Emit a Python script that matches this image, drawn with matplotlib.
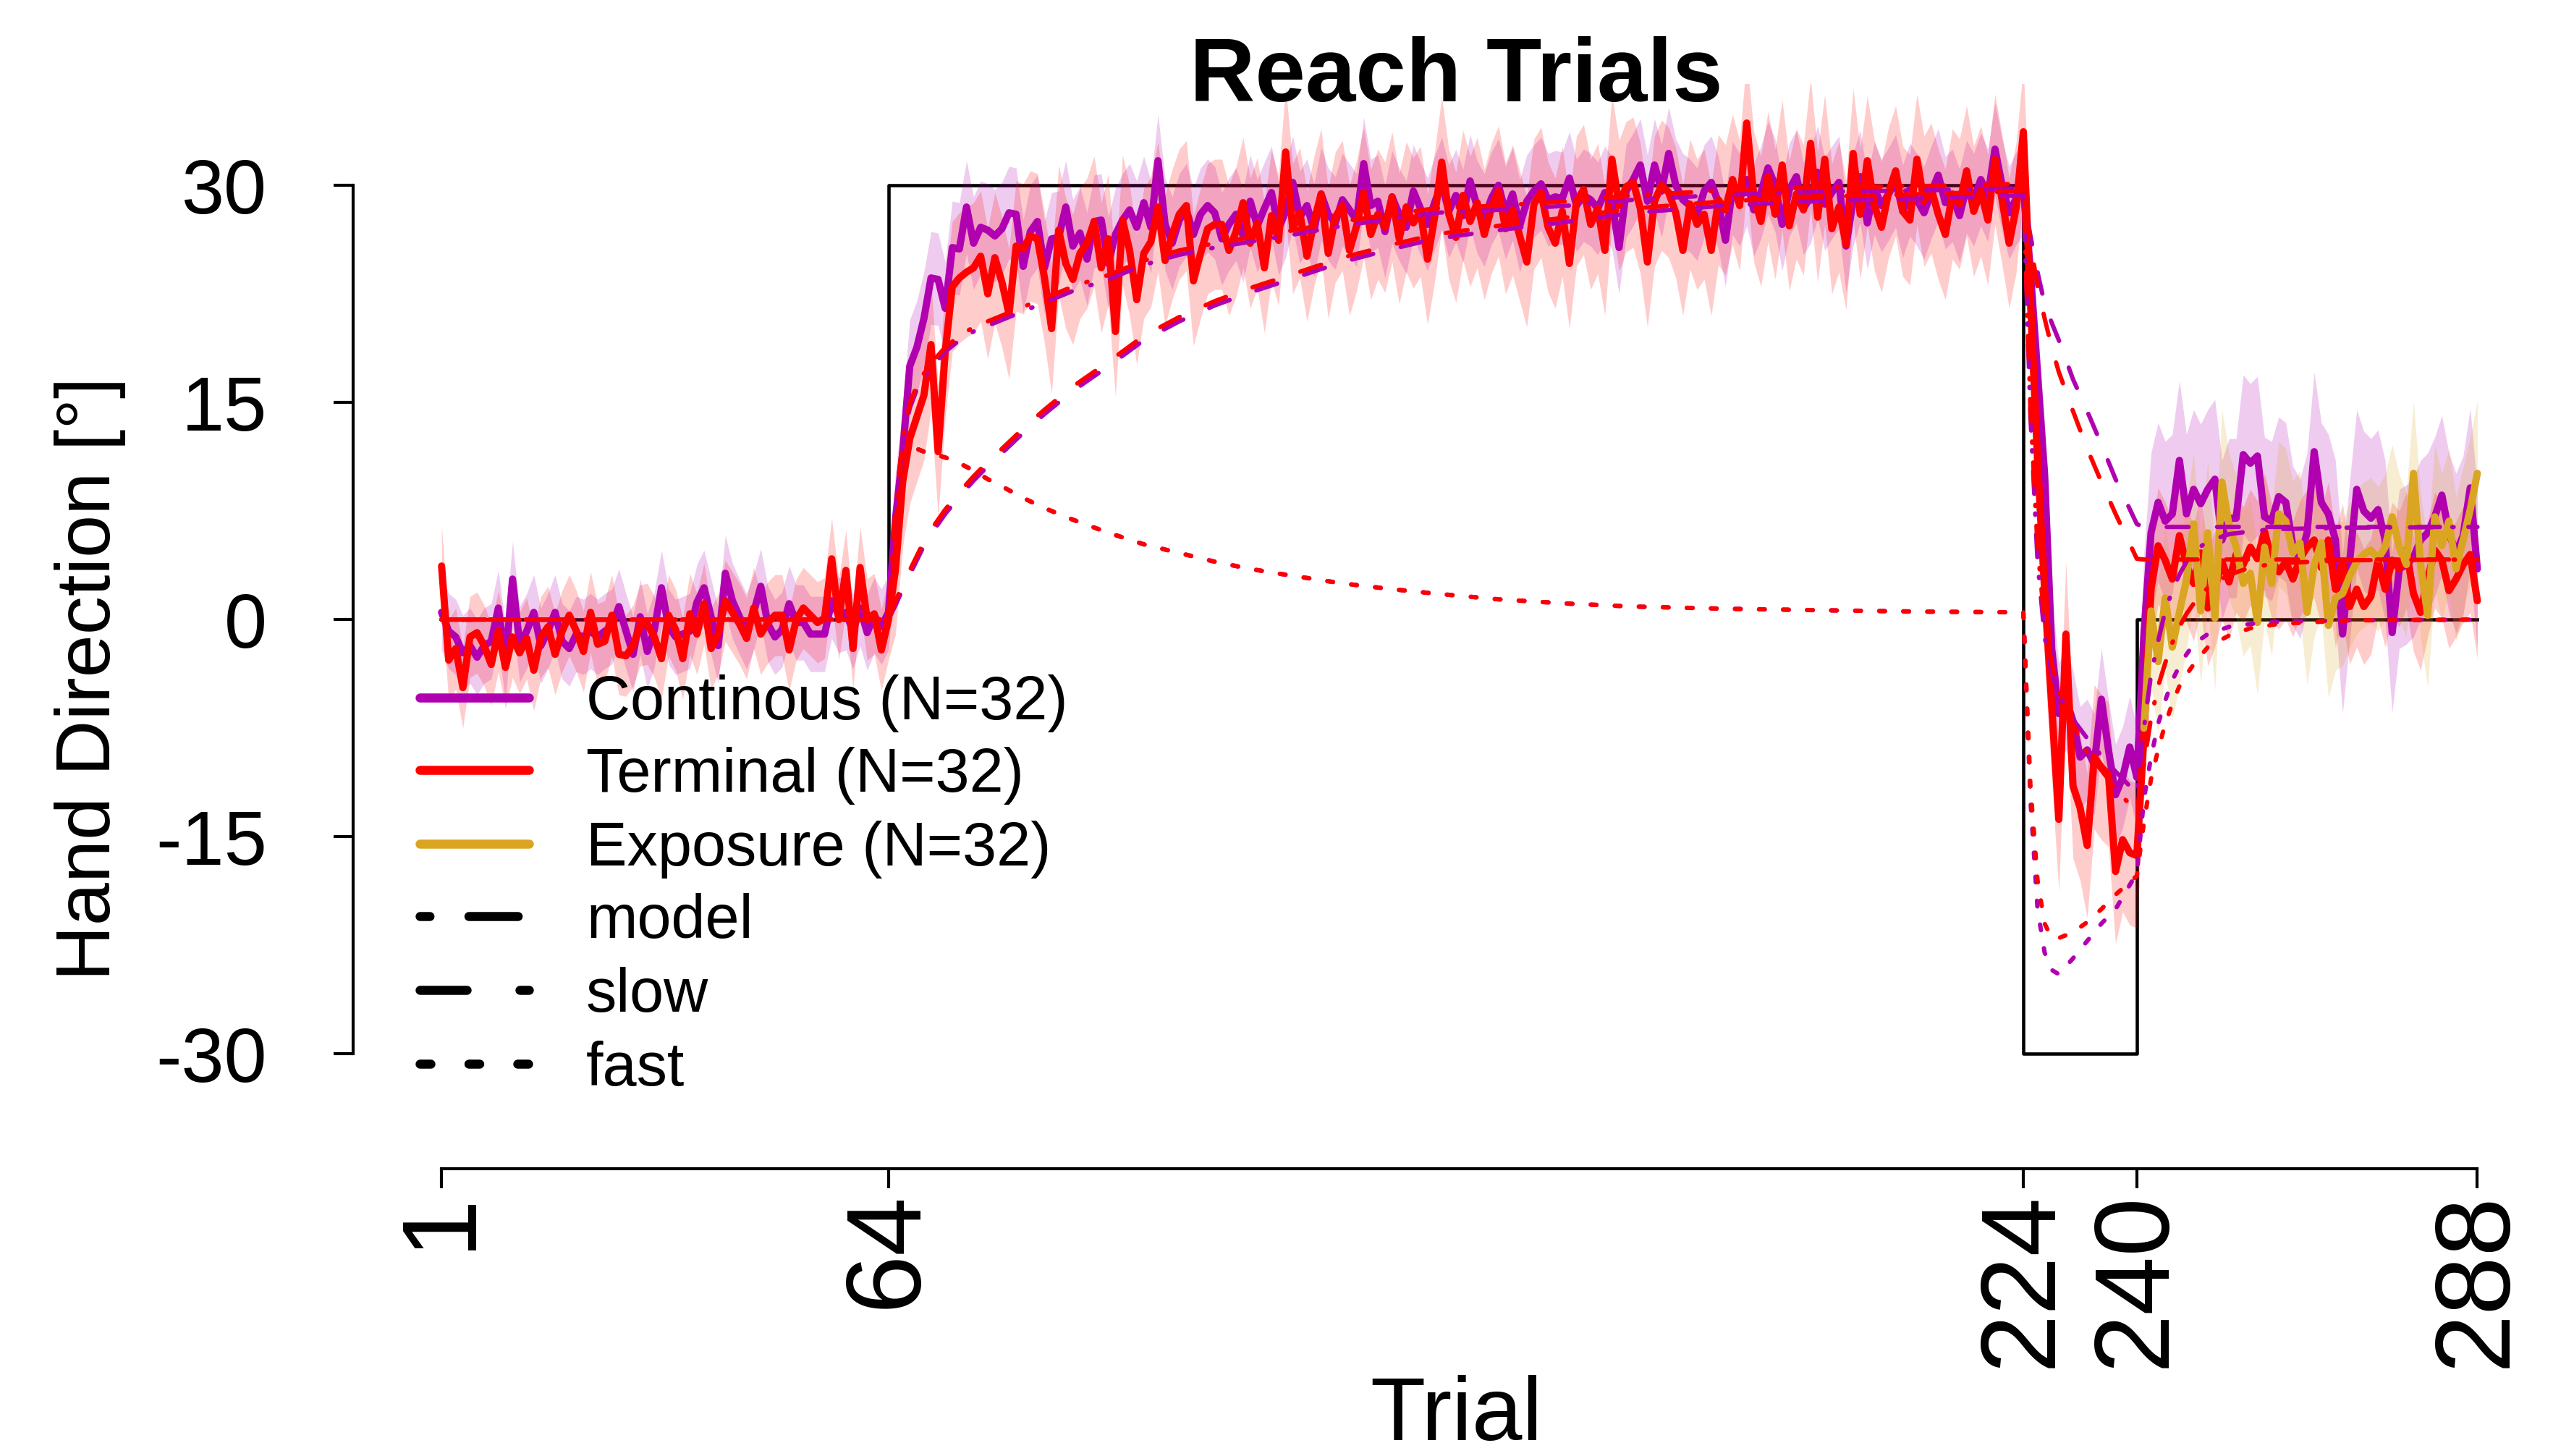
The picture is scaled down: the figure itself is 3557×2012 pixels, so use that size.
import matplotlib
matplotlib.use('Agg')
import matplotlib.pyplot as plt
from matplotlib.lines import Line2D
import numpy as np

plt.rcParams['font.family'] = ['Liberation Sans', 'DejaVu Sans']

# ---- data ----
# Continuous group, per trial, split by phase
cont_base = [0.5, -0.8, -1.2, -2.3, -1.8, -2.6, -1.8, -1.5, 0.8, -3.0,
             2.8, -1.7, -0.8, 0.5, -1.8, -0.8, 0.5, -1.5, -2.0, -1.0,
             -1.2, -0.8, -1.2, -0.8, -0.5, 0.9, -0.8, -2.4, 0.2, -2.2,
             -0.7, 2.2, -0.5, -1.2, -1.0, -0.8, 1.2, 2.2, 0.2, -1.8,
             3.2, 1.3, 0.2, -0.8, 0.5, 2.3, -0.3, -1.2, -0.7, 1.1,
             -0.2, -0.2, -1.0, -1.0, -1.0, 1.3, 0.3, 0.5, -0.8, 0.8,
             -0.9, 0.3, -0.5, 0.5]
cont_train = [7.0, 11.5, 17.5, 18.8, 20.8, 23.6, 23.5, 21.5, 25.7, 25.6,
              28.5, 26.0, 27.1, 26.9, 26.5, 27.0, 28.1, 28.0, 24.4, 26.8,
              27.5, 24.3, 26.3, 26.4, 28.5, 25.8, 26.7, 24.9, 27.5, 27.6,
              24.6, 26.6, 27.6, 28.3, 27.1, 28.8, 27.1, 31.7, 27.3, 26.0,
              27.6, 28.3, 26.6, 28.0, 28.6, 28.1, 26.3, 27.3, 28.0, 26.5,
              28.9, 27.2, 28.4, 29.5, 27.0, 28.2, 30.2, 27.8, 28.6, 26.9,
              29.4, 28.0, 27.4, 29.0, 28.3, 27.6, 31.5, 28.6, 28.9, 26.8,
              29.2, 28.0, 27.1, 29.6, 28.4, 27.3, 28.8, 30.1, 28.2, 29.3,
              27.9, 30.3, 28.5, 27.6, 29.1, 30.0, 28.1, 29.4, 27.2, 28.9,
              29.6, 30.1, 29.0, 29.2, 29.1, 30.5, 28.6, 29.3, 29.0, 28.4,
              29.5, 28.8, 25.7, 29.6, 30.4, 31.4, 28.9, 31.4, 29.6, 32.2,
              30.0, 29.0, 28.6, 28.0, 29.6, 30.2, 28.8, 26.2, 29.8, 29.0,
              30.4, 28.3, 29.5, 31.2, 30.0, 27.3, 29.7, 30.6, 28.4, 29.2,
              30.9, 28.7, 29.5, 30.2, 25.8, 29.0, 30.6, 27.4, 29.8, 28.6,
              29.4, 30.3, 28.2, 29.7, 29.0, 28.1, 29.5, 30.7, 28.8, 29.3,
              27.9, 29.9, 29.0, 30.4, 29.3, 32.5, 30.0, 28.1, 29.1, 29.75]
cont_counter = [24.0, 17.0, 10.0, -2.0, -6.5, -5.5, -7.0, -9.5, -9.0, -10.0,
                -5.5, -9.0, -12.1, -10.9, -8.8, -10.9]
cont_clamp = [-1.0, 6.0, 8.1, 6.8, 7.3, 11.0, 7.3, 9.0, 8.0, 9.0,
              9.7, 5.5, 7.0, 7.0, 11.4, 10.8, 11.3, 7.1, 6.8, 8.5,
              8.1, 5.1, 4.2, 6.0, 11.6, 8.1, 7.3, 5.5, -1.0, 4.0,
              9.0, 7.5, 7.0, 7.6, 5.5, -0.9, 3.5, 3.8, 4.3, 5.5,
              6.0, 7.1, 8.6, 6.0, 4.6, 5.8, 9.1, 3.5]

# Terminal group
term_base = [3.7, -2.8, -2.0, -4.7, -1.2, -0.9, -1.8, -3.1, -0.8, -3.3,
             -1.2, -2.3, -1.3, -3.5, -1.2, -0.5, -2.4, -0.8, 0.3, -0.8,
             -2.2, 0.5, -1.7, -1.5, 0.3, -2.4, -2.5, -1.8, -0.4, -0.3,
             -1.2, -2.7, 0.3, -0.7, -2.7, 0.4, -1.0, 1.1, -2.0, -1.0,
             1.3, 0.5, -0.3, -1.3, 0.8, -1.0, -0.2, 0.3, 0.3, -2.1,
             0.0, 0.8, 0.3, -0.2, 0.1, 4.2, 0.0, 3.4, -2.0, 3.6,
             0.0, 0.4, -2.1, 0.0]
term_train = [3.5, 9.5, 12.5, 14.0, 15.5, 19.0, 11.6, 18.5, 23.0, 23.6,
              24.0, 24.3, 25.1, 22.5, 25.0, 23.3, 21.1, 25.8, 25.6, 26.5,
              26.3, 23.6, 20.1, 26.9, 24.6, 23.5, 25.3, 26.0, 27.5, 24.3,
              26.3, 19.9, 27.6, 25.5, 22.1, 25.3, 26.1, 28.5, 24.8, 26.6,
              28.0, 28.6, 23.4, 25.3, 27.0, 27.3, 27.3, 25.5, 26.8, 28.8,
              26.0, 27.4, 24.3, 27.9, 26.2, 32.3, 27.0, 28.1, 25.1, 27.5,
              29.4, 25.3, 27.8, 28.6, 25.5, 27.2, 29.5, 26.6, 28.0, 27.1,
              29.2, 26.3, 28.5, 27.4, 28.2, 24.9, 27.8, 31.6, 28.0, 26.4,
              29.3, 27.5, 28.8, 26.6, 28.4, 29.6, 27.0, 28.3, 26.5, 24.7,
              28.7, 29.5, 27.1, 26.0, 28.2, 24.6, 28.9, 29.7, 27.3, 28.4,
              25.5, 31.8, 28.6, 29.9, 30.2, 28.4, 24.7, 28.9, 30.0, 29.5,
              28.1, 25.5, 28.7, 27.3, 28.0, 25.5, 29.0, 28.3, 30.4, 28.6,
              34.3, 29.2, 27.5, 30.6, 28.0, 31.4, 27.2, 29.4, 28.3, 32.9,
              27.8, 31.8, 27.0, 28.5, 25.9, 32.2, 28.0, 31.7, 28.6, 27.1,
              29.5, 31.0, 28.2, 27.6, 31.8, 28.9, 29.8, 28.0, 26.6, 29.4,
              28.7, 31.0, 28.2, 29.6, 27.6, 31.8, 29.0, 26.0, 28.5, 33.7]
term_counter = [22.0, 11.0, 2.0, -6.0, -13.8, -1.0, -11.5, -13.0, -15.6, -9.5,
                -10.2, -10.7, -17.4, -15.2, -16.1, -16.3]
term_clamp = [-8.0, 2.1, 5.1, 4.1, 2.8, 5.8, 3.8, 2.5, 4.6, 0.8,
              2.1, 4.0, 2.6, 4.5, 3.8, 5.0, 4.2, 6.1, 4.1, 3.3,
              4.0, 2.8, 4.2, 5.0, 5.5, 3.6, 5.5, 2.1, 4.0, 0.9,
              2.1, 0.9, 1.6, 4.1, 2.1, 4.1, 3.5, 4.8, 1.8, 0.5,
              2.8, 4.8, 4.1, 2.0, 2.8, 3.8, 4.5, 1.3]

# Exposure group (only clamp trials 241-288)
expo_clamp = [-7.5, 0.6, -2.9, 1.5, -1.9, 0.5, 2.8, 6.6, 0.6, 6.0,
              0.1, 9.5, 6.5, 5.0, 2.5, 3.2, -0.2, 5.0, 2.5, 7.3,
              6.8, 4.6, 5.3, 0.5, 3.8, 5.3, -0.4, 1.5, 1.8, 3.0,
              4.0, 4.5, 4.8, 4.2, 5.0, 7.1, 5.0, 3.8, 10.1, 3.8,
              0.3, 7.1, 5.1, 6.8, 3.5, 5.5, 7.6, 10.1]

# approximate half-width of the shaded bands per phase (baseline, training, counter, clamp)
phase_len = [64, 160, 16, 48]
cont_ci = [2.6, 3.2, 3.5, 5.5]
term_ci = [2.8, 4.5, 5.0, 4.0]
expo_ci = 5.0

# rotation schedule
sched_trials = [1, 64, 64, 224, 224, 240, 240, 288]
sched_vals = [0, 0, 30, 30, -30, -30, 0, 0]

# two-rate model fits, read at these trials
model_trials = [1, 64, 65, 66, 67, 68, 69, 70, 72, 74, 76, 78, 80, 83, 86, 90, 95, 100,
                105, 110, 115, 120, 128, 135, 141, 150, 160, 169, 182, 195, 210, 224,
                225, 226, 227, 228, 229, 231, 233, 235, 237, 240,
                241, 242, 243, 244, 245, 246, 247, 248, 250, 253, 256, 260, 270, 288]
cont_model = [0, 0, 7.5, 12.1, 14.6, 15.9, 16.7, 17.4, 18.5, 19.3, 19.9, 20.3, 20.7, 21.3,
              21.9, 22.7, 23.5, 24.5, 25.2, 25.7, 26.1, 26.5, 27.2, 27.7, 28.1, 28.3, 28.6,
              29.0, 29.35, 29.55, 29.65, 29.8,
              14.0, 4.0, -1.2, -3.7, -5.2, -6.9, -8.2, -9.4, -10.5, -12.0,
              -7.5, -3.8, -1.5, 0.6, 2.0, 3.1, 4.0, 4.7, 5.4, 5.9, 6.1, 6.25, 6.35, 6.4]
cont_slow = [0, 0, 1.0, 2.1, 3.1, 4.1, 5.1, 5.9, 7.3, 8.5, 9.6, 10.6, 11.5, 12.9, 14.2,
             15.8, 17.5, 19.3, 20.6, 21.7, 22.6, 23.4, 24.7, 25.6, 26.3, 26.9, 27.5, 28.1,
             28.6, 28.9, 29.1, 29.3,
             26.5, 24.0, 21.8, 20.5, 19.3, 16.6, 14.4, 12.1, 9.7, 6.6,
             6.4, 6.4, 6.4, 6.4, 6.4, 6.4, 6.4, 6.4, 6.4, 6.4, 6.4, 6.4, 6.4, 6.4]
cont_fast = [0, 0, 6.5, 10.0, 11.5, 11.8, 11.6, 11.5, 11.2, 10.8, 10.3, 9.7, 9.2, 8.4, 7.7,
             6.9, 6.0, 5.2, 4.6, 4.0, 3.5, 3.1, 2.5, 2.1, 1.8, 1.4, 1.1, 0.9, 0.75, 0.65,
             0.55, 0.5,
             -12.5, -20.0, -23.0, -24.2, -24.5, -23.4, -22.2, -21.0, -20.0, -17.5,
             -12.4, -9.5, -7.2, -5.6, -4.2, -3.2, -2.4, -1.7, -1.0, -0.5, -0.3, -0.15, -0.05, 0.0]
term_model = [0, 0, 7.8, 12.4, 14.9, 16.2, 17.0, 17.7, 18.8, 19.6, 20.2, 20.6, 21.0, 21.6,
              22.2, 23.0, 23.8, 24.8, 25.5, 26.0, 26.4, 26.8, 27.5, 28.0, 28.4, 28.6, 28.9,
              29.3, 29.65, 29.85, 29.95, 30.1,
              14.5, 5.0, -0.2, -3.0, -4.9, -7.2, -9.2, -10.4, -11.7, -13.3,
              -10.0, -6.8, -4.6, -3.0, -1.6, -0.5, 0.4, 1.1, 2.2, 3.1, 3.6, 3.9, 4.1, 4.15]
term_slow = [0, 0, 1.3, 2.4, 3.4, 4.4, 5.4, 6.2, 7.6, 8.8, 9.9, 10.9, 11.8, 13.2, 14.5,
             16.1, 17.8, 19.6, 20.9, 22.0, 22.9, 23.7, 25.0, 25.9, 26.6, 27.2, 27.8, 28.4,
             28.9, 29.2, 29.4, 29.6,
             26.0, 23.0, 20.8, 18.8, 17.1, 14.4, 11.8, 9.5, 7.3, 4.2,
             4.15, 4.15, 4.15, 4.15, 4.15, 4.15, 4.15, 4.15, 4.15, 4.15, 4.15, 4.15, 4.15, 4.15]
term_fast = [0, 0, 6.5, 10.0, 11.5, 11.8, 11.6, 11.5, 11.2, 10.8, 10.3, 9.7, 9.2, 8.4, 7.7,
             6.9, 6.0, 5.2, 4.6, 4.0, 3.5, 3.1, 2.5, 2.1, 1.8, 1.4, 1.1, 0.9, 0.75, 0.65,
             0.55, 0.5,
             -11.5, -18.0, -21.0, -22.0, -22.0, -21.6, -20.9, -20.0, -19.0, -17.7,
             -14.0, -11.0, -9.0, -7.2, -5.8, -4.6, -3.8, -3.1, -1.9, -1.1, -0.6, -0.3, -0.05, 0.0]

xticks = [1, 64, 224, 240, 288]
yticks = [-30, -15, 0, 15, 30]

PURPLE = '#B000B0'
RED = '#FF0000'
GOLD = '#DAA520'

# ---- assemble ----
cont = np.array(cont_base + cont_train + cont_counter + cont_clamp)
term = np.array(term_base + term_train + term_counter + term_clamp)
expo = np.array(expo_clamp)
trials = np.arange(1, len(cont) + 1)
expo_trials = np.arange(241, 241 + len(expo))
cont_hw = np.repeat(cont_ci, phase_len)
term_hw = np.repeat(term_ci, phase_len)

W, H, DPI = 3557, 2012, 300
fig = plt.figure(figsize=(W / DPI, H / DPI), dpi=DPI)


def fx(px):
    return px / W


def fy(py):
    return 1 - py / H


# axes box in pixels: left 488, right 3443, top 116, bottom 1615
ax = fig.add_axes([fx(488), fy(1615), fx(3443) - fx(488), fy(116) - fy(1615)])
ax.set_xlim(-11.47, 290.0)
ax.set_ylim(-37.93, 37.0)

ax.plot(sched_trials, sched_vals, color='black', lw=1.1, zorder=1)

ax.fill_between(trials, cont - cont_hw, cont + cont_hw, color=PURPLE, alpha=0.2, lw=0, zorder=2)
ax.fill_between(trials, term - term_hw, term + term_hw, color=RED, alpha=0.2, lw=0, zorder=2)
ax.fill_between(expo_trials, expo - expo_ci, expo + expo_ci, color=GOLD, alpha=0.2, lw=0, zorder=2)

line_kw = dict(lw=2.4, solid_capstyle='round', solid_joinstyle='round', zorder=3)
ax.plot(trials, cont, color=PURPLE, **line_kw)
ax.plot(trials, term, color=RED, **line_kw)
ax.plot(expo_trials, expo, color=GOLD, **line_kw)

model_style = (0, (0.3, 4.5, 5.2, 4.5))
slow_style = (0, (5.0, 6.5))
fast_style = (0, (1.3, 4.2))
mkw = dict(lw=1.45, dash_capstyle='round', zorder=4)
for col, m, s, f in [(PURPLE, cont_model, cont_slow, cont_fast),
                     (RED, term_model, term_slow, term_fast)]:
    ax.plot(model_trials, m, color=col, ls=model_style, **mkw)
    ax.plot(model_trials, s, color=col, ls=slow_style, **mkw)
    ax.plot(model_trials, f, color=col, ls=fast_style, **mkw)

# R-style detached axes
for side in ['top', 'right']:
    ax.spines[side].set_visible(False)
ax.spines['left'].set_bounds(-30, 30)
ax.spines['bottom'].set_bounds(1, 288)
for side in ['left', 'bottom']:
    ax.spines[side].set_linewidth(1.0)

ax.set_xticks(xticks)
ax.set_xticklabels([str(t) for t in xticks], rotation=90)
ax.set_yticks(yticks)
ax.set_yticklabels([str(t) for t in yticks])
ax.tick_params(axis='both', direction='out', length=6.5, width=1.0)
ax.tick_params(axis='x', pad=1, labelsize=35)
ax.tick_params(axis='y', pad=22, labelsize=25.5)

fig.text(fx(2012), fy(140), 'Reach Trials', ha='center', va='baseline',
         fontsize=30, fontweight='bold')
fig.text(fx(125), fy(938), 'Hand Direction [°]', rotation=90, ha='center', va='center',
         fontsize=25.5)
fig.text(fx(2012), fy(1990), 'Trial', ha='center', va='baseline', fontsize=30)

# legend drawn by hand
leg_rows = [964, 1064, 1166, 1266, 1368, 1470]
leg_labels = ['Continous (N=32)', 'Terminal (N=32)', 'Exposure (N=32)', 'model', 'slow', 'fast']
leg_colors = [PURPLE, RED, GOLD, 'black', 'black', 'black']
leg_styles = ['-', '-', '-', (0, (1.1, 4.3, 5.45, 4.3)), (0, (5.2, 5.84)), (0, (1.2, 4.2))]
for yrow, lab, col, st in zip(leg_rows, leg_labels, leg_colors, leg_styles):
    fig.add_artist(Line2D([fx(580), fx(731)], [fy(yrow), fy(yrow)], transform=fig.transFigure,
                          color=col, lw=3.0, ls=st, solid_capstyle='round',
                          dash_capstyle='round'))
    fig.text(fx(810), fy(yrow + 30), lab, ha='left', va='baseline', fontsize=20.3)

fig.savefig('out.png', dpi=DPI)
plt.close(fig)
